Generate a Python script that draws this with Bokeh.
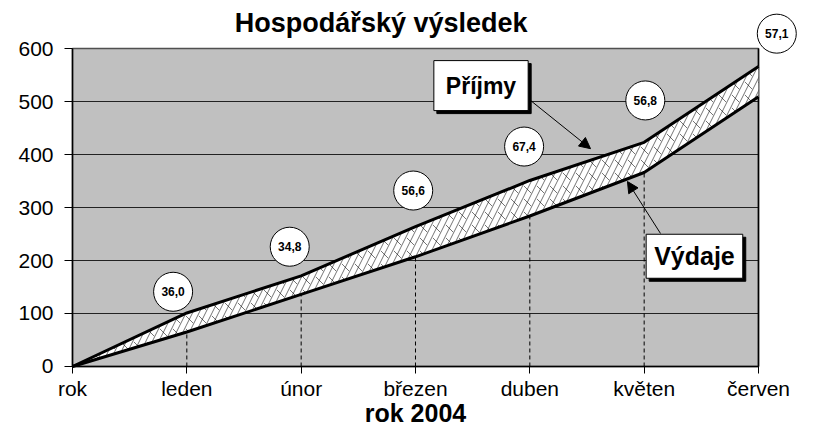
from bokeh.plotting import figure
from bokeh.models import FixedTicker, Label, Arrow, NormalHead, Range1d
from bokeh.core.properties import value
from bokeh.embed import file_html
from bokeh.resources import INLINE

# ---- data ----
months = ["rok", "leden", "únor", "březen", "duben", "květen", "červen"]
prijmy = [0, 101, 171, 264, 351, 423, 566]
vydaje = [0, 65, 136, 207, 284, 366, 509]
rozdil_labels = ["36,0", "34,8", "56,6", "67,4", "56,8", "57,1"]
y_ticks = [0, 100, 200, 300, 400, 500, 600]

title_text = "Hospodářský výsledek"
x_title = "rok 2004"
name_prijmy = "Příjmy"
name_vydaje = "Výdaje"

# ---- layout helpers (offsets of bubble labels relative to the Příjmy point) ----
label_dx = [-0.12, -0.10, -0.02, -0.05, 0.01, 0.16]
label_dy = [40, 55, 68, 64, 79, 62]

FONT = "Liberation Sans"
xs = list(range(len(months)))

p = figure(width=814, height=429, output_backend="svg", toolbar_location=None,
           x_range=Range1d(-0.6297, 6.4899), y_range=Range1d(-118.87, 690.57),
           min_border_left=0, min_border_right=0, min_border_top=0,
           min_border_bottom=0, title=None)
p.background_fill_color = "white"
p.border_fill_color = "white"
p.outline_line_color = None
p.xgrid.visible = False
p.ygrid.visible = False

# plot area background
p.quad(left=xs[0], right=xs[-1], bottom=y_ticks[0], top=y_ticks[-1],
       fill_color="#C0C0C0", line_color="#505050", line_width=1.5)

# horizontal gridlines
gy = y_ticks[1:-1]
p.segment(x0=xs[0], x1=xs[-1], y0=gy, y1=gy, line_color="#222222", line_width=1.2)

# drop lines
p.segment(x0=xs[1:], x1=xs[1:], y0=0, y1=vydaje[1:], line_color="black",
          line_width=1, line_dash="4 3")

# right border
p.line([xs[-1], xs[-1]], [y_ticks[0], y_ticks[-1]], line_color="black", line_width=1.5)

# hatched band (diagonal brick look)
p.varea(x=xs, y1=vydaje, y2=prijmy, fill_color="white",
        hatch_pattern="right_diagonal_line", hatch_color="black",
        hatch_scale=13, hatch_weight=0.55)
p.varea(x=xs, y1=vydaje, y2=prijmy, fill_color=None, fill_alpha=0,
        hatch_pattern="left_diagonal_dash", hatch_color="black",
        hatch_scale=13, hatch_weight=0.55)
p.line(xs, prijmy, line_color="black", line_width=3)
p.line(xs, vydaje, line_color="black", line_width=3)

# bubble labels
lx = [xs[i + 1] + label_dx[i] for i in range(len(rozdil_labels))]
ly = [prijmy[i + 1] + label_dy[i] for i in range(len(rozdil_labels))]
p.scatter(lx, ly, size=39, marker="circle", fill_color="white",
          line_color="black", line_width=1)
p.text(lx, ly, text=rozdil_labels, text_font=value(FONT), text_font_style="bold",
       text_font_size="12px", text_align="center", text_baseline="middle",
       text_color="black")

# axes (drawn at fixed data locations so the frame can fill the canvas)
p.xaxis.ticker = FixedTicker(ticks=xs)
p.xaxis.major_label_overrides = {i: m for i, m in enumerate(months)}
p.xaxis.bounds = (xs[0], xs[-1])
p.xaxis.fixed_location = y_ticks[0]
p.yaxis.ticker = FixedTicker(ticks=y_ticks)
p.yaxis.bounds = (y_ticks[0], y_ticks[-1])
p.yaxis.fixed_location = xs[0]
for ax in (p.xaxis, p.yaxis):
    ax.axis_line_color = "black"
    ax.axis_line_width = 1.5
    ax.major_tick_line_color = "black"
    ax.major_tick_in = 0
    ax.minor_tick_line_color = None
    ax.major_label_text_font = FONT
    ax.major_label_text_color = "black"
p.xaxis.major_tick_out = 7
p.yaxis.major_tick_out = 8
p.xaxis.major_label_text_font_size = "21px"
p.xaxis.major_label_standoff = 4
p.yaxis.major_label_text_font_size = "21px"
p.yaxis.major_label_standoff = 11

# title and x-axis title
p.add_layout(Label(x=2.70, y=649, text=title_text, text_font=FONT,
                   text_font_style="bold", text_font_size="27px",
                   text_align="center", text_baseline="middle", text_color="black"))
p.add_layout(Label(x=(xs[0] + xs[-1]) / 2, y=-87.7, text=x_title, text_font=FONT,
                   text_font_style="bold", text_font_size="25px",
                   text_align="center", text_baseline="middle", text_color="black"))

# arrows
p.add_layout(Arrow(end=NormalHead(size=11, fill_color="black", line_color="black"),
                   x_start=4.006, y_start=502, x_end=4.531, y_end=411,
                   line_color="black", line_width=1))
p.add_layout(Arrow(end=NormalHead(size=11, fill_color="black", line_color="black"),
                   x_start=5.143, y_start=251, x_end=4.854, y_end=349,
                   line_color="black", line_width=1))

# boxed series names with shadow
def boxed(x, y, text, size, pad):
    p.add_layout(Label(x=x, y=y, text=text, text_font=FONT, text_font_style="bold",
                       text_font_size=size, text_align="center", text_baseline="middle",
                       text_color="black", background_fill_color="black",
                       border_line_color="black", padding=pad, x_offset=3, y_offset=-3))
    p.add_layout(Label(x=x, y=y, text=text, text_font=FONT, text_font_style="bold",
                       text_font_size=size, text_align="center", text_baseline="middle",
                       text_color="black", background_fill_color="white",
                       border_line_color="black", border_line_width=1, padding=pad))

boxed(3.573, 530, name_prijmy, "23px", 12)
boxed(5.44, 208, name_vydaje, "25px", 8)

open("out.html", "w").write(file_html(p, INLINE))
